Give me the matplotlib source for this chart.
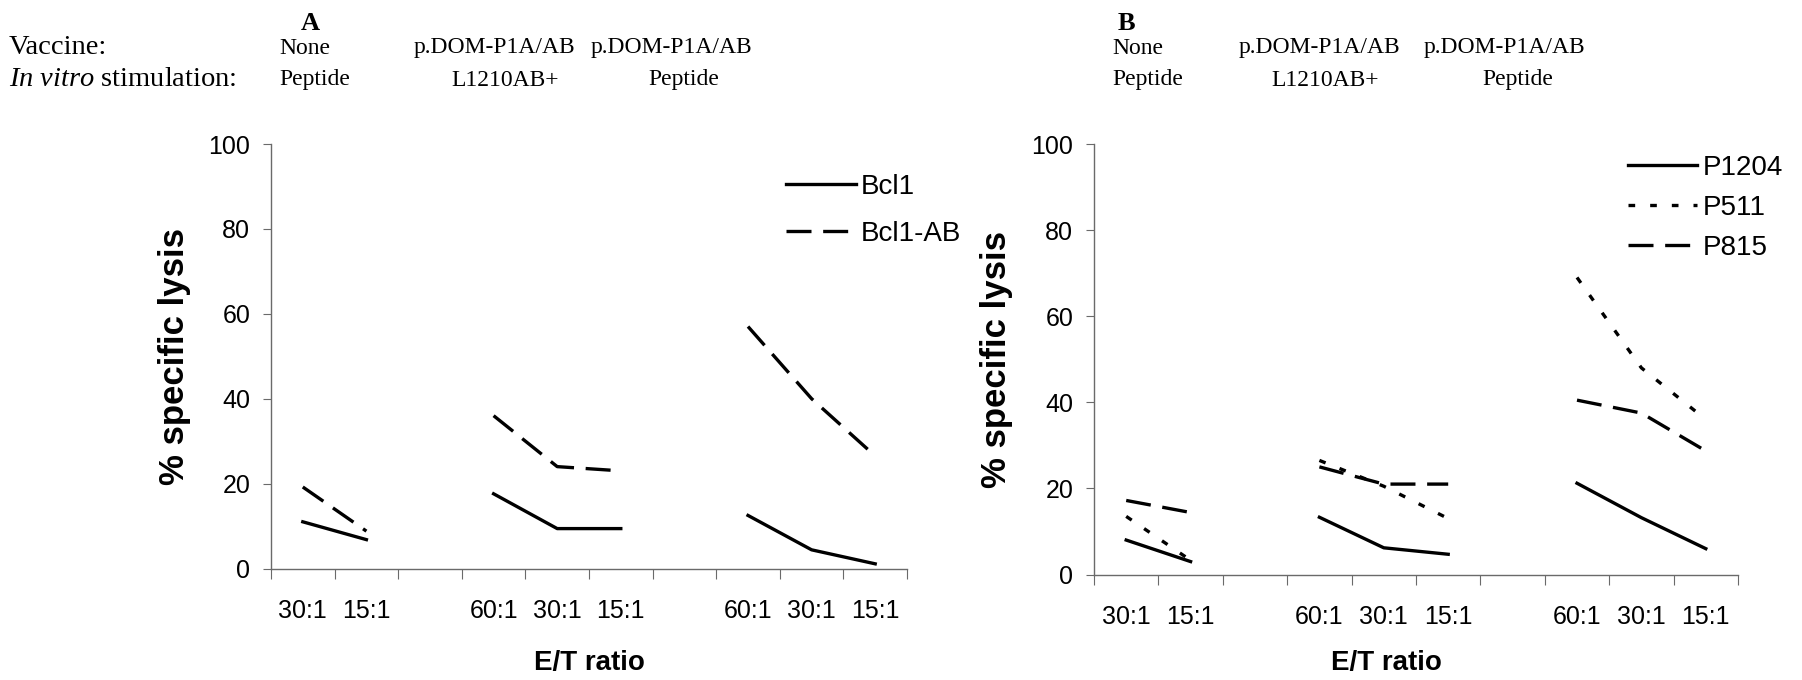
import matplotlib
matplotlib.use('Agg')
import matplotlib.pyplot as plt
import numpy as np

# category slots: E/T groups separated by one empty slot
CATS = ['30:1', '15:1', '', '60:1', '30:1', '15:1', '', '60:1', '30:1', '15:1']

BCL1 = [11.0, 6.8, np.nan, 17.6, 9.4, 9.4, np.nan, 12.5, 4.4, 1.1]
BCL1_AB = [19.2, 8.8, np.nan, 36.0, 24.0, 23.0, np.nan, 57.0, 40.0, 26.5]

P1204 = [8.0, 3.0, np.nan, 13.3, 6.2, 4.7, np.nan, 21.2, 13.2, 6.0]
P511 = [13.5, 3.3, np.nan, 26.5, 20.5, 13.0, np.nan, 69.0, 48.0, 36.0]
P815 = [17.2, 14.4, np.nan, 25.0, 21.0, 21.0, np.nan, 40.5, 37.5, 28.7]

VACCINE = ['None', 'p.DOM-P1A/AB', 'p.DOM-P1A/AB']
STIM = ['Peptide', 'L1210AB+', 'Peptide']

W, H = 1802, 680
SANS = 'Liberation Sans'
SERIF = 'Liberation Serif'
DASH = (7.5, 3.5)
DOT = (2.0, 4.5)
HEAD_FS = 17


def px_axes(fig, x0, x1, y_top, y_bot):
    return fig.add_axes([x0 / W, 1 - y_bot / H, (x1 - x0) / W, (y_bot - y_top) / H])


def style_axes(ax):
    x = np.arange(len(CATS)) + 0.5
    ax.set_xlim(0, len(CATS))
    ax.set_ylim(0, 100)
    for side in ('top', 'right'):
        ax.spines[side].set_visible(False)
    for side in ('left', 'bottom'):
        ax.spines[side].set_color('#6a6a6a')
        ax.spines[side].set_linewidth(1.0)
    ax.set_yticks(np.arange(0, 101, 20))
    ax.tick_params(axis='y', length=6, width=0.8, color='#6a6a6a', pad=9,
                   labelsize=18)
    ax.set_xticks(np.arange(0, len(CATS) + 1))
    ax.set_xticklabels([])
    ax.tick_params(axis='x', which='major', length=7, width=0.8, color='#6a6a6a')
    ax.set_xticks(x, minor=True)
    ax.set_xticklabels(CATS, minor=True, fontsize=18)
    ax.tick_params(axis='x', which='minor', length=0, pad=22)
    for lab in ax.get_xticklabels(minor=True) + ax.get_yticklabels():
        lab.set_family(SANS)
    ax.text(-0.151, 0.5, '% specific lysis', transform=ax.transAxes, rotation=90,
            ha='center', va='center', fontsize=25, fontweight='bold', family=SANS)
    return x


def add_legend(ax, anchor, spacing):
    leg = ax.legend(loc='upper left', bbox_to_anchor=anchor, frameon=False,
                    fontsize=20, handlelength=2.5, handletextpad=0.18,
                    labelspacing=spacing, borderpad=0, borderaxespad=0)
    for t in leg.get_texts():
        t.set_family(SANS)


def header(fig, letter, letter_x, cols, with_names):
    fig.text(letter_x / W, 1 - 23 / H, letter, ha='left', va='center',
             fontsize=19, fontweight='bold', family=SERIF)
    if with_names:
        fig.text(9 / W, 1 - 48 / H, 'Vaccine:', ha='left', va='center',
                 fontsize=20.5, family=SERIF)
        fig.text(9 / W, 1 - 80 / H, r'$\mathit{In\ vitro}$ stimulation:', ha='left',
                 va='center', fontsize=20.5, family=SERIF)
    # cols: (x, ha) for vaccine row, (x, ha) for stimulation row
    for ((xv, hv), (xs, hs)), vac, stim in zip(cols, VACCINE, STIM):
        fig.text(xv / W, 1 - 48 / H, vac, ha=hv, va='center', fontsize=HEAD_FS,
                 family=SERIF)
        fig.text(xs / W, 1 - 80 / H, stim, ha=hs, va='center', fontsize=HEAD_FS,
                 family=SERIF)


def main():
    plt.rcParams['mathtext.fontset'] = 'custom'
    plt.rcParams['mathtext.it'] = 'Liberation Serif:italic'
    plt.rcParams['mathtext.rm'] = 'Liberation Serif'
    fig = plt.figure(figsize=(W / 100, H / 100), dpi=100)

    # panel A
    ax_a = px_axes(fig, 271, 907, 144, 568.5)
    x = style_axes(ax_a)
    ax_a.plot(x, BCL1, color='black', lw=2.4, label='Bcl1')
    ax_a.plot(x, BCL1_AB, color='black', lw=2.4, dashes=DASH, label='Bcl1-AB')
    add_legend(ax_a, (0.81, 0.93), 0.75)
    ax_a.text(0.5, -0.223, 'E/T ratio', transform=ax_a.transAxes, ha='center',
              va='center', fontsize=20, fontweight='bold', family=SANS)

    # panel B
    ax_b = px_axes(fig, 1094, 1738, 144, 574.5)
    x = style_axes(ax_b)
    ax_b.plot(x, P1204, color='black', lw=2.4, label='P1204')
    ax_b.plot(x, P511, color='black', lw=2.4, dashes=DOT, label='P511')
    ax_b.plot(x, P815, color='black', lw=2.4, dashes=DASH, label='P815')
    add_legend(ax_b, (0.829, 0.975), 0.5)
    ax_b.text((1386 - 1094) / 644, -0.206, 'E/T ratio', transform=ax_b.transAxes,
              ha='center', va='center', fontsize=20, fontweight='bold', family=SANS)

    header(fig, 'A', 301,
           [((279, 'left'), (279, 'left')),
            ((494, 'center'), (505, 'center')),
            ((671, 'center'), (684, 'center'))], True)
    header(fig, 'B', 1118,
           [((1112, 'left'), (1112, 'left')),
            ((1319, 'center'), (1325, 'center')),
            ((1504, 'center'), (1518, 'center'))], False)

    fig.savefig('out.png', dpi=100)
    plt.close(fig)


if __name__ == '__main__':
    main()
